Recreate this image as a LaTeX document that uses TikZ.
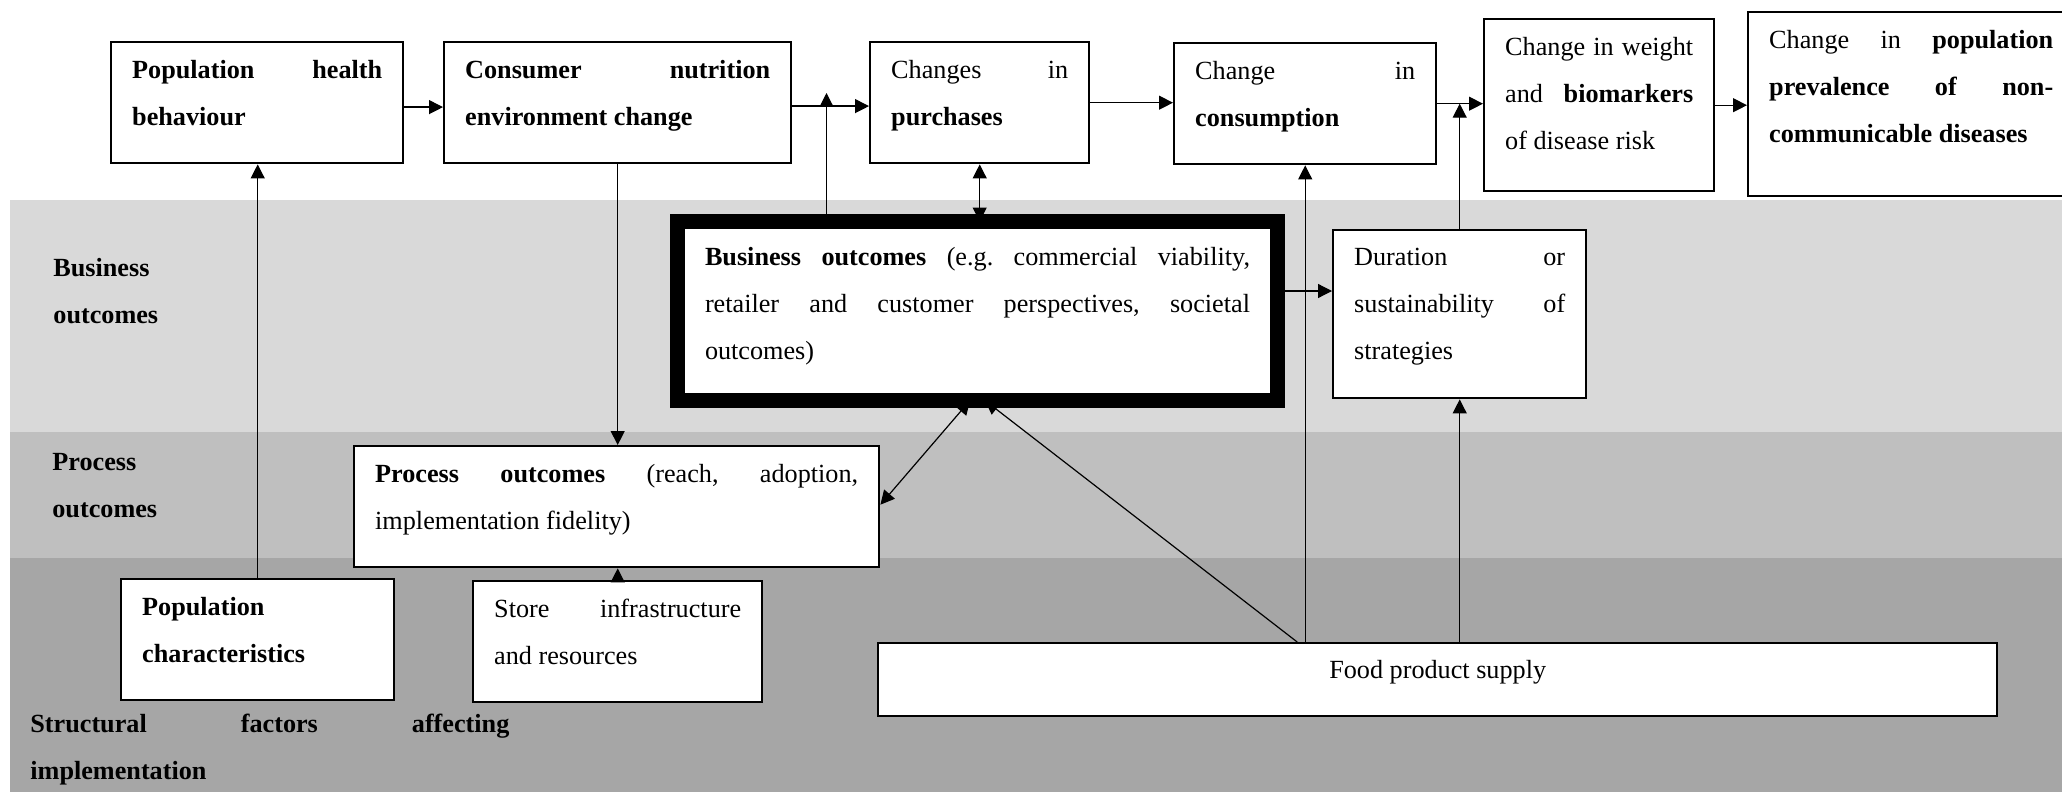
\documentclass[tikz,border=0pt]{standalone}
\usepackage{fontspec}
\setmainfont{Liberation Serif}
\usetikzlibrary{arrows.meta, positioning}
\definecolor{bandlight}{HTML}{D9D9D9}
\definecolor{bandmid}{HTML}{BFBFBF}
\definecolor{banddark}{HTML}{A6A6A6}
\newcommand{\mainsize}{\fontsize{13.1pt}{23.5pt}\selectfont}
\newcommand{\boxtext}[3]{\parbox[t][#2][t]{#1}{\rule{0pt}{8.6pt}#3}}
\frenchspacing

\begin{document}
\begin{tikzpicture}[x=0.5pt, y=-0.5pt, >={Triangle[length=7pt,width=7pt]},
    font=\mainsize,
    box/.style={draw, line width=1.2pt, fill=white, anchor=north west,
      inner xsep=10.5pt, inner ysep=9pt},
    bigbox/.style={box, line width=7.5pt, outer sep=0pt,
      inner xsep=13.75pt, inner ysep=12.7pt},
    bandlabel/.style={anchor=base west, inner sep=0pt},
    conn/.style={line width=0.6pt, ->},
    biconn/.style={line width=0.6pt, <->}]
  \useasboundingbox (0,0) rectangle (2062,792);
  % shaded bands
  \fill[bandlight] (10,200) rectangle (2062,432);
  \fill[bandmid]   (10,432) rectangle (2062,558);
  \fill[banddark]  (10,558) rectangle (2062,792);
  \node[bandlabel] (lbus)  at (53,276) {\parbox[t]{120pt}{\textbf{Business}\\\textbf{outcomes}}};
  \node[bandlabel] (lproc) at (52,470) {\parbox[t]{120pt}{\textbf{Process}\\\textbf{outcomes}}};
  \node[bandlabel] (lstr)  at (30,732) {\parbox[t]{239.5pt}{\textbf{Structural factors affecting}\linebreak\textbf{implementation}}};
  % top row
  \node[box] (phb)  at (110,41)  {\boxtext{125pt}{42.5pt}{\textbf{Population health}\linebreak\textbf{behaviour}}};
  \node[box] (cne)  at (443,41)  {\boxtext{152.5pt}{42.5pt}{\textbf{Consumer nutrition}\linebreak\textbf{environment change}}};
  \node[box] (pur)  at (869,41)  {\boxtext{88.5pt}{42.5pt}{Changes in\linebreak\textbf{purchases}}};
  \node[box] (cons) at (1173,42) {\boxtext{110pt}{42.5pt}{Change in\linebreak\textbf{consumption}}};
  \node[box] (wgt)  at (1483,18) {\boxtext{94pt}{68pt}{Change in weight\linebreak and \textbf{biomarkers}\linebreak of disease risk}};
  \node[box] (prev) at (1747,11) {\boxtext{142pt}{74pt}{Change in \textbf{population}\linebreak\textbf{prevalence of non-}\linebreak\textbf{communicable diseases}}};
  % middle and bottom
  \node[bigbox] (bus) at (677.5,221.5) {\boxtext{272.5pt}{64.1pt}{\textbf{Business outcomes} (e.g. commercial viability,\linebreak retailer and customer perspectives, societal\linebreak outcomes)}};
  \node[box] (dur)  at (1332,229) {\boxtext{105.5pt}{66pt}{Duration or\linebreak sustainability of\linebreak strategies}};
  \node[box] (proc) at (353,445)  {\boxtext{241.5pt}{42.5pt}{\textbf{Process outcomes} (reach, adoption,\linebreak implementation fidelity)}};
  \node[box] (pch)  at (120,578)  {\boxtext{115.5pt}{42.5pt}{\textbf{Population}\newline\textbf{characteristics}}};
  \node[box] (sto)  at (472,580)  {\boxtext{123.5pt}{42.5pt}{Store infrastructure\linebreak and resources}};
  \node[box, inner sep=0pt, minimum width=559.5pt, minimum height=36.5pt,
        text depth=10pt] (fps) at (877,642) {Food product supply};
  % connectors
  \coordinate (jpur) at (826.5,93);
  \draw[conn] ([yshift=-2.2pt]phb.east) -- ([yshift=-2.2pt]phb.east -| cne.west);
  \draw[conn] ([yshift=-1.7pt]cne.east) -- ([yshift=-1.7pt]cne.east -| pur.west);
  \draw[conn] (bus.north -| jpur) -- (jpur);
  \draw[biconn] (pur.south) -- (pur.south |- bus.north);
  \draw[conn] (pur.east) -- (pur.east -| cons.west);
  \draw[conn] (cons.east) -- (cons.east -| wgt.west);
  \draw[conn] (dur.north) -- (dur.north |- cons.east);
  \draw[conn] (wgt.east) -- (wgt.east -| prev.west);
  \draw[conn] ([yshift=10pt]bus.east) -- ([yshift=10pt]bus.east -| dur.west);
  \draw[conn] (cne.south) -- (cne.south |- proc.north);
  \draw[conn] (pch.north) -- (pch.north |- phb.south);
  \draw[conn] (sto.north) -- (sto.north |- proc.south);
  \draw[biconn] ([xshift=-3.75pt]bus.south) -- ([yshift=1pt]proc.east);
  \draw[conn] ([xshift=-70.25pt]fps.north) -- ([xshift=3.75pt]bus.south);
  \draw[conn] (fps.north -| cons.south) -- (cons.south);
  \draw[conn] (fps.north -| dur.south) -- (dur.south);
\end{tikzpicture}
\end{document}
